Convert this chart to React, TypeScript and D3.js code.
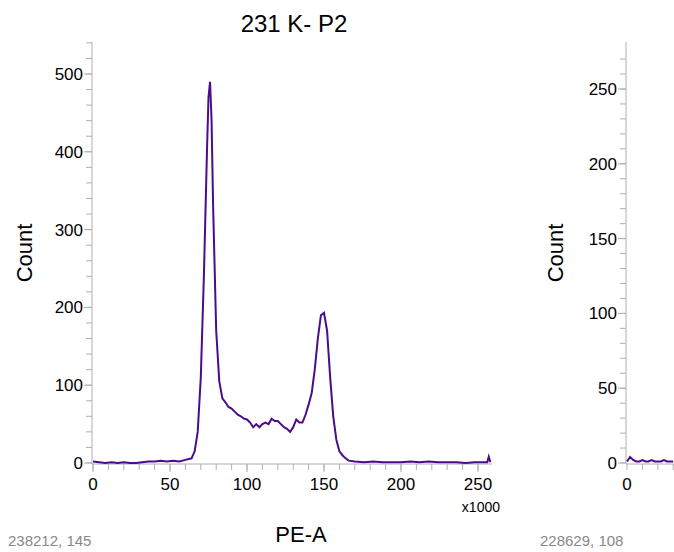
import * as d3 from 'd3'

const TITLE = '231 K- P2'
const XS = [0, 4, 8, 12, 16, 20, 24, 28, 32, 36, 40, 44, 48, 52, 56, 60, 64, 66, 68, 70, 72, 74, 75, 76, 77, 78, 80, 82, 84, 86, 88, 90, 92, 94, 96, 98, 100, 102, 104, 106, 108, 110, 112, 114, 116, 118, 120, 122, 124, 126, 128, 130, 132, 134, 136, 138, 140, 142, 144, 146, 148, 150, 152, 154, 156, 158, 160, 162, 164, 166, 170, 176, 182, 188, 194, 200, 206, 212, 218, 224, 230, 236, 242, 248, 254, 256, 257, 258]
const COUNTS = [2, 1, 0, 1, 0, 1, 0, 0, 1, 2, 2, 3, 2, 3, 2, 4, 6, 15, 40, 110, 240, 400, 470, 490, 440, 330, 170, 105, 83, 78, 72, 70, 66, 62, 60, 57, 56, 52, 46, 50, 46, 50, 52, 50, 57, 54, 54, 50, 46, 44, 40, 46, 56, 52, 52, 62, 75, 90, 120, 160, 190, 193, 170, 110, 60, 30, 15, 10, 6, 3, 2, 1, 2, 1, 1, 1, 2, 1, 2, 1, 1, 1, 0, 1, 1, 1, 8, 1]
const X_TICKS = [0, 50, 100, 150, 200, 250]
const Y_TICKS = [0, 100, 200, 300, 400, 500]
const R_TICKS = [0, 50, 100, 150, 200, 250]
const R_XS = [0, 2, 4, 6, 8, 10, 12, 14, 16, 18, 20, 22, 24, 26, 28, 30]
const R_COUNTS = [1, 4, 2, 1, 1, 2, 1, 1, 2, 1, 1, 1, 2, 1, 1, 1]

const GREY = '#b0b0b0'
const LINE = '#4b0c8c'
const FONT = 'Arial, "Liberation Sans", sans-serif'

export default function App() {
  const x = d3.scaleLinear().domain([0, 250]).range([93, 478])
  const y = d3.scaleLinear().domain([0, 500]).range([463, 74])
  const yr = d3.scaleLinear().domain([0, 250]).range([463, 89])
  const xr = d3.scaleLinear().domain([0, 250]).range([627, 1012])
  const line = d3.line<number>().x((_, i) => x(XS[i])).y((d) => y(d))
  const rline = d3.line<number>().x((_, i) => xr(R_XS[i])).y((d) => yr(d))
  const yMinor = d3.range(0, 541, 20)
  const xMinor = d3.range(0, 260, 10)
  const rMinor = d3.range(0, 276, 10)
  const rxMinor = d3.range(0, 40, 10)
  return (
    <svg width={674} height={552} style={{ position: 'absolute', left: 0, top: 0, fontFamily: FONT }}>
      <text x={294} y={32} textAnchor="middle" fontSize={24}>{TITLE}</text>
      {/* left axes */}
      <line x1={92} x2={92} y1={42} y2={464} stroke={GREY} />
      <line x1={92} x2={492} y1={464} y2={464} stroke={GREY} />
      {yMinor.map((v) => <line key={'ym' + v} x1={86} x2={92} y1={y(v)} y2={y(v)} stroke={GREY} />)}
      {Y_TICKS.map((v) => (
        <g key={'y' + v}>
          <line x1={84} x2={92} y1={y(v)} y2={y(v)} stroke={GREY} />
          <text x={83} y={y(v) + 6} textAnchor="end" fontSize={17}>{v}</text>
        </g>
      ))}
      {xMinor.map((v) => <line key={'xm' + v} x1={x(v)} x2={x(v)} y1={464} y2={470} stroke={GREY} />)}
      {X_TICKS.map((v) => (
        <g key={'x' + v}>
          <line x1={x(v)} x2={x(v)} y1={464} y2={472} stroke={GREY} />
          <text x={x(v)} y={490} textAnchor="middle" fontSize={17}>{v}</text>
        </g>
      ))}
      <text x={500} y={512} textAnchor="end" fontSize={14}>x1000</text>
      <text x={32} y={253} textAnchor="middle" fontSize={22} transform="rotate(-90 32 253)">Count</text>
      <text x={301} y={542} textAnchor="middle" fontSize={22}>PE-A</text>
      <text x={8} y={546} fontSize={15} fill="#888">238212, 145</text>
      <path d={line(COUNTS) ?? ''} fill="none" stroke={LINE} strokeWidth={2} />
      {/* right panel */}
      <line x1={626} x2={626} y1={42} y2={464} stroke={GREY} />
      <line x1={626} x2={674} y1={464} y2={464} stroke={GREY} />
      {rMinor.map((v) => <line key={'rm' + v} x1={620} x2={626} y1={yr(v)} y2={yr(v)} stroke={GREY} />)}
      {R_TICKS.map((v) => (
        <g key={'r' + v}>
          <line x1={618} x2={626} y1={yr(v)} y2={yr(v)} stroke={GREY} />
          <text x={617} y={yr(v) + 6} textAnchor="end" fontSize={17}>{v}</text>
        </g>
      ))}
      {rxMinor.map((v) => <line key={'rx' + v} x1={xr(v)} x2={xr(v)} y1={464} y2={470} stroke={GREY} />)}
      <text x={627} y={490} textAnchor="middle" fontSize={17}>0</text>
      <text x={563} y={253} textAnchor="middle" fontSize={22} transform="rotate(-90 563 253)">Count</text>
      <text x={540} y={546} fontSize={15} fill="#888">228629, 108</text>
      <path d={rline(R_COUNTS) ?? ''} fill="none" stroke={LINE} strokeWidth={2} />
    </svg>
  )
}
